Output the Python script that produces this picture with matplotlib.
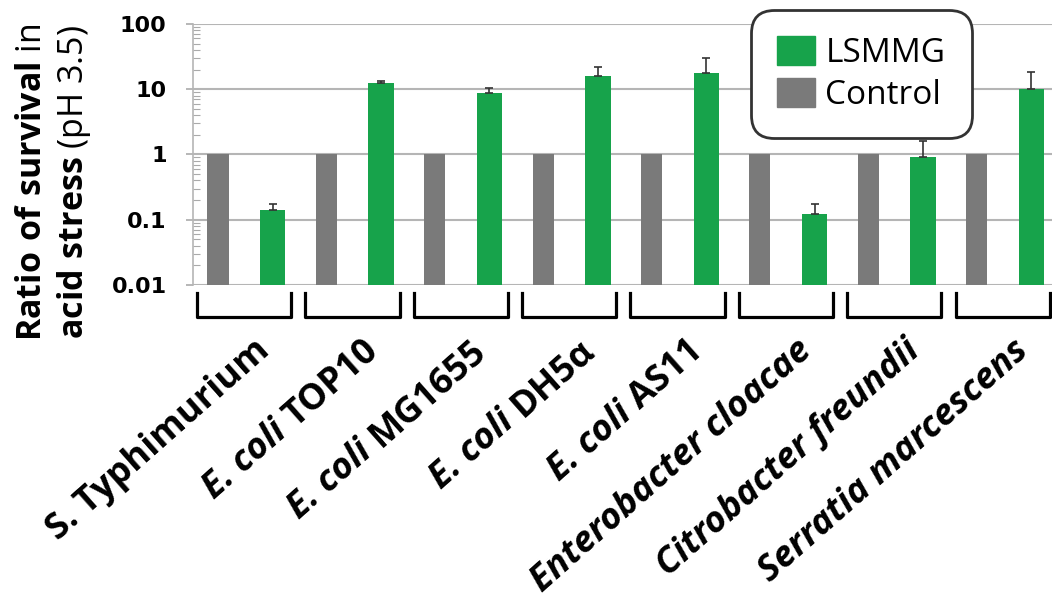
import numpy as np
import matplotlib.pyplot as plt
import matplotlib.transforms as mtransforms
from matplotlib.patches import Patch

plt.rcParams['font.family'] = ['DejaVu Sans']
plt.rcParams['mathtext.fontset'] = 'custom'
plt.rcParams['mathtext.rm'] = 'Open Sans'
plt.rcParams['mathtext.bf'] = 'Open Sans:bold'

# strain labels: italic part + upright part
label_italic = ["", "E. coli", "E. coli", "E. coli", "E. coli",
                "Enterobacter cloacae", "Citrobacter freundii", "Serratia marcescens"]
label_plain = ["S. Typhimurium", "TOP10", "MG1655", "DH5α", "AS11", "", "", ""]

control = [1, 1, 1, 1, 1, 1, 1, 1]
lsmmg = [0.14, 12.5, 8.8, 15.9, 17.7, 0.121, 0.92, 10.0]
lsmmg_err = [0.037, 1.0, 1.7, 6.1, 12.8, 0.056, 0.69, 8.3]

green = '#17a34b'
grey = '#7a7a7a'

fig = plt.figure(figsize=(10.52, 5.98), dpi=100)
ax = fig.add_axes([0.1835, 0.5234, 0.8165, 0.4365])

x = np.arange(len(lsmmg))
ax.bar(x - 0.255, control, width=0.195, color=grey, zorder=3)
ax.bar(x + 0.25, lsmmg, width=0.235, color=green, zorder=3,
       yerr=[np.zeros(len(lsmmg)), lsmmg_err], capsize=3,
       error_kw=dict(ecolor='#333333', elinewidth=1.2, capthick=1.2))

ax.set_yscale('log')
ax.set_ylim(0.01, 100)
ax.set_xlim(-0.485, 7.44)
ax.set_yticks([0.01, 0.1, 1, 10, 100])
ax.set_yticklabels(['0.01', '0.1', '1', '10', '100'], fontsize=16, fontweight='bold')
ax.tick_params(axis='y', which='major', length=5, color='#aaaaaa', width=1.2, pad=14)
ax.tick_params(axis='y', which='minor', direction='in', length=5, color='#aaaaaa', width=0.8)
ax.tick_params(axis='x', length=0, labelbottom=False)
ax.grid(axis='y', which='major', color='#b5b5b5', linewidth=1.5, zorder=0)
for s in ['top', 'right', 'bottom']:
    ax.spines[s].set_visible(False)
ax.spines['left'].set_color('#b5b5b5')
ax.spines['left'].set_linewidth(1.2)

# brackets under each group
trans = mtransforms.blended_transform_factory(ax.transData, ax.transAxes)
for i in x:
    ax.plot([i - 0.45, i - 0.45, i + 0.42, i + 0.42], [-0.03, -0.122, -0.122, -0.03],
            color='black', lw=2.3, transform=trans, clip_on=False)

# rotated strain labels, built from the right end backwards
ang = 41.5
fs = 26
cs, sn = np.cos(np.deg2rad(ang)), np.sin(np.deg2rad(ang))
renderer = fig.canvas.get_renderer()
space = 0.26 * fs * 100 / 72
for i in x:
    segs = [(label_italic[i], 'italic'), (label_plain[i], 'normal')]
    off = 0
    for txt, style in reversed(segs):
        if not txt:
            continue
        tr = mtransforms.offset_copy(trans, fig=fig, x=-off * cs, y=-off * sn, units='dots')
        t = ax.text(i + 0.18, -0.235, txt, transform=tr, rotation=0, rotation_mode='anchor',
                    ha='right', va='center', fontsize=fs, fontweight='bold',
                    fontstyle=style, family='Open Sans')
        off += t.get_window_extent(renderer).width + space
        t.set_rotation(ang)

# y label (two lines)
fig.text(0.03, 0.695, r"$\mathbf{Ratio\ of\ survival}$ in", rotation=90,
         ha='center', va='center', fontsize=24.5, family='Open Sans')
fig.text(0.07, 0.695, r"$\mathbf{acid\ stress}$ (pH 3.5)", rotation=90,
         ha='center', va='center', fontsize=24.5, family='Open Sans')

handles = [Patch(color=green), Patch(color=grey)]
leg = fig.legend(handles, ['LSMMG', 'Control'], loc='upper left',
                 bbox_to_anchor=(744 / 1052, 1 - 3 / 598), bbox_transform=fig.transFigure,
                 prop={'family': 'Open Sans', 'size': 24}, frameon=True, fancybox=True,
                 handlelength=1.14, handleheight=0.96, handletextpad=0.3, labelspacing=0.22,
                 borderpad=0.5, edgecolor='#333333', framealpha=1)
leg.get_frame().set_linewidth(2)
leg.get_frame().set_boxstyle('round,pad=0.3,rounding_size=0.7')

fig.savefig('out.png', dpi=100)
